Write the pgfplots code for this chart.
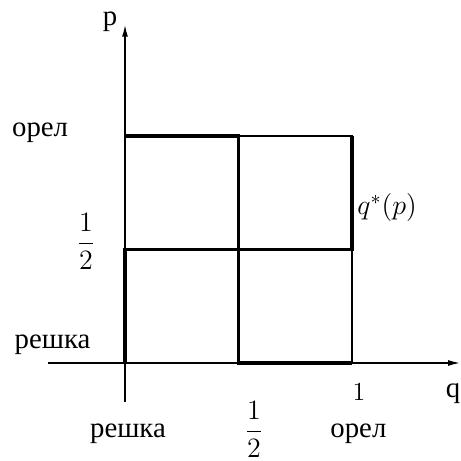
\RequirePackage{fix-cm}
\documentclass[border=0pt]{standalone}
\usepackage{amsmath}
\usepackage[no-math]{fontspec}
\setmainfont{Liberation Serif}
\usepackage{pgfplots}
\pgfplotsset{compat=1.18}
\usetikzlibrary{arrows.meta}
\newcommand{\txt}[1]{{\fontsize{14.4}{16}\selectfont #1}}

\begin{document}
\begin{tikzpicture}
\begin{axis}[
    x=113.5pt, y=113.5pt,
    scale only axis,
    xmin=-0.34, xmax=1.476,
    ymin=-0.17, ymax=1.49,
    axis lines=middle,
    axis line style={line width=0.75pt},
    x axis line style={-{Latex[length=6pt,width=3pt]}},
    y axis line style={-{Latex[length=6pt,width=3pt]}},
    xtick=\empty, ytick=\empty,
    clip=false,
]
% square and middle lines
\addplot[line width=0.85pt] coordinates {(0,0) (1,0) (1,1) (0,1) (0,0)};
\addplot[line width=0.85pt] coordinates {(0.5,0) (0.5,1)};
\addplot[line width=0.85pt] coordinates {(0,0.5) (1,0.5)};
% best responses
\addplot[line width=1.6pt] coordinates {(0,1) (0.5,1) (0.5,0) (1,0)};
\addplot[line width=1.6pt] coordinates {(0,0) (0,0.5) (1,0.5) (1,1)};

\node[inner sep=0pt, anchor=base] at (axis cs:-0.066,1.485) {\txt{p}};
\node[inner sep=0pt, anchor=base east] at (axis cs:1.478,-0.150) {\txt{q}};
\node[inner sep=0pt, anchor=base] at (axis cs:-0.374,0.996) {\txt{орел}};
\node[inner sep=0pt, anchor=base] at (axis cs:-0.319,0.066) {\txt{решка}};
\node[inner sep=0pt, anchor=base] at (axis cs:0.013,-0.330) {\txt{решка}};
\node[inner sep=0pt, anchor=base] at (axis cs:1.028,-0.330) {\txt{орел}};
\node[inner sep=0pt, anchor=center] at (axis cs:-0.172,0.535) {\fontsize{14}{16}\selectfont$\dfrac{1}{2}$};
\node[inner sep=0pt, anchor=center] at (axis cs:0.568,-0.292) {\fontsize{14}{16}\selectfont$\dfrac{1}{2}$};
\node[inner sep=0pt, anchor=base] at (axis cs:1.031,-0.167) {\fontsize{13}{15}\selectfont$1$};
\node[inner sep=0pt, anchor=base west] at (axis cs:1.022,0.654) {\fontsize{14}{16}\selectfont$q^*(p)$};

\coordinate (bbsw) at (axis cs:-0.5507,-0.4317);
\coordinate (bbne) at (axis cs:1.480,1.599);
\end{axis}
\pgfresetboundingbox
\path[use as bounding box] (bbsw) rectangle (bbne);
\end{tikzpicture}
\end{document}
